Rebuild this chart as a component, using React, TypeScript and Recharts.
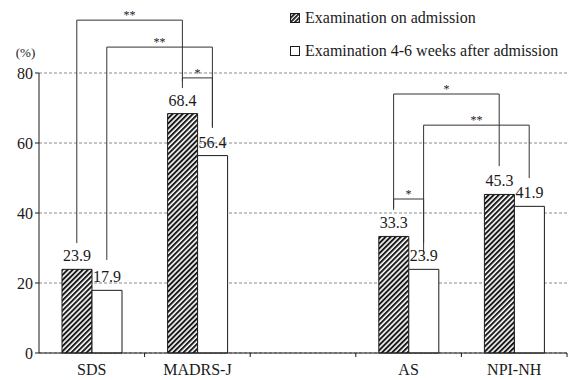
import { BarChart, Bar, XAxis, YAxis, CartesianGrid, ReferenceLine, LabelList, Legend } from 'recharts';

const categories = ['SDS', 'MADRS-J', '', 'AS', 'NPI-NH'];
const onAdmission = [23.9, 68.4, null, 33.3, 45.3];
const afterWeeks = [17.9, 56.4, null, 23.9, 41.9];
const yTicks = [0, 20, 40, 60, 80];
const seriesNames = ['Examination on admission', 'Examination 4-6 weeks after admission'];

// significance brackets: leg = [category, series (0 = admission, 1 = after)], ends and top in %
const brackets = [
  { from: ['SDS', 0], fromEnd: 31.4, to: ['MADRS-J', 0], toEnd: 77.7, top: 95.1, mark: '**' },
  { from: ['SDS', 1], fromEnd: 26.6, to: ['MADRS-J', 1], toEnd: 64.3, top: 87.4, mark: '**' },
  { from: ['MADRS-J', 0], fromEnd: 75.7, to: ['MADRS-J', 1], toEnd: 64.6, top: 78.6, mark: '*' },
  { from: ['AS', 0], fromEnd: 41.4, to: ['NPI-NH', 0], toEnd: 53.4, top: 74.0, mark: '*' },
  { from: ['AS', 0], fromEnd: 40.9, to: ['AS', 1], toEnd: 31.4, top: 44.0, mark: '*' },
  { from: ['AS', 1], fromEnd: 28.9, to: ['NPI-NH', 1], toEnd: 50.0, top: 65.1, mark: '**' },
];

const data = categories.map((name, i) => ({ name, a: onAdmission[i], b: afterWeeks[i] }));

const W = 570;
const H = 380;
const margin = { top: 73, right: 3, bottom: 0, left: 0 };
const barSize = 30;
// bar centre relative to the category centre
const seriesDx = (s: number) => (s === 0 ? -barSize / 2 : barSize / 2);

const FONT = '"Liberation Serif", "Times New Roman", serif';
const INK = '#1a1a1a';
const LINE = '#333';

const shifted = (dx1: number, dx2: number, mark?: string) => (p: any) => (
  <g>
    <line x1={p.x1 + dx1} y1={p.y1} x2={p.x2 + dx2} y2={p.y2} stroke={LINE} strokeWidth={1} />
    {mark ? (
      <text
        x={(p.x1 + dx1 + p.x2 + dx2) / 2}
        y={p.y1 - 1}
        textAnchor="middle"
        fontSize={12}
        fill={INK}
        stroke="none"
      >
        {mark}
      </text>
    ) : null}
  </g>
);

const HatchIcon = () => (
  <svg width={10} height={10} style={{ marginRight: 5 }}>
    <defs>
      <pattern id="hatchIcon" patternUnits="userSpaceOnUse" width={3} height={3} patternTransform="rotate(45)">
        <rect width={3} height={3} fill="#fff" />
        <rect width={1.8} height={3} fill={INK} />
      </pattern>
    </defs>
    <rect x={0.5} y={0.5} width={9} height={9} fill="url(#hatchIcon)" stroke={INK} />
  </svg>
);

const BoxIcon = () => (
  <svg width={10} height={10} style={{ marginRight: 5 }}>
    <rect x={0.5} y={0.5} width={9} height={9} fill="#fff" stroke={INK} />
  </svg>
);

const renderLegend = () => (
  <div style={{ fontFamily: FONT, fontSize: 16, color: INK }}>
    <div style={{ display: 'flex', alignItems: 'center', height: 20 }}>
      <HatchIcon />
      <span>{seriesNames[0]}</span>
    </div>
    <div style={{ display: 'flex', alignItems: 'center', height: 20, marginTop: 13 }}>
      <BoxIcon />
      <span>{seriesNames[1]}</span>
    </div>
  </div>
);

export default function App() {
  return (
    <div style={{ position: 'absolute', left: 0, top: 0, width: W, height: H, background: '#fff', fontFamily: FONT }}>
      <BarChart width={W} height={H} data={data} margin={margin} barGap={0} barSize={barSize}>
        <defs>
          <pattern id="hatch" patternUnits="userSpaceOnUse" width={3.6} height={3.6} patternTransform="rotate(45)">
            <rect width={3.6} height={3.6} fill="#fff" />
            <rect width={2} height={3.6} fill={INK} />
          </pattern>
        </defs>
        <CartesianGrid vertical={false} stroke="#8a8a8a" strokeDasharray="3 2" />
        <XAxis
          dataKey="name"
          height={27}
          axisLine={{ stroke: INK }}
          tickLine={false}
          tickSize={6}
          tickMargin={5}
          tick={{ fill: INK, fontSize: 16 }}
          interval={0}
        />
        <YAxis
          width={39}
          domain={[0, 80]}
          ticks={yTicks}
          axisLine={{ stroke: INK }}
          tickLine={{ stroke: INK }}
          tickSize={4}
          tickMargin={2}
          tick={{ fill: INK, fontSize: 16 }}
          label={{ value: '(%)', position: 'top', offset: 16, dx: 6, fill: INK, fontSize: 13 }}
        />
        <Legend
          layout="horizontal"
          verticalAlign="middle"
          align="center"
          content={renderLegend}
          wrapperStyle={{ top: 8, left: 290, width: 280, height: 60 }}
        />
        {categories.map((c, i) => (
          <ReferenceLine
            key={`tick-${i}`}
            ifOverflow="visible"
            stroke={INK}
            position="end"
            segment={[{ x: c, y: 0 }, { x: c, y: -1.15 }]}
          />
        ))}
        {brackets.flatMap((b, k) => {
          const [c1, s1] = b.from as [string, number];
          const [c2, s2] = b.to as [string, number];
          const d1 = seriesDx(s1);
          const d2 = seriesDx(s2);
          return [
            <ReferenceLine key={`l-${k}`} ifOverflow="visible" shape={shifted(d1, d1)}
              segment={[{ x: c1, y: b.fromEnd }, { x: c1, y: b.top }]} />,
            <ReferenceLine key={`r-${k}`} ifOverflow="visible" shape={shifted(d2, d2)}
              segment={[{ x: c2, y: b.toEnd }, { x: c2, y: b.top }]} />,
            <ReferenceLine key={`t-${k}`} ifOverflow="visible" shape={shifted(d1, d2, b.mark)}
              segment={[{ x: c1, y: b.top }, { x: c2, y: b.top }]} />,
          ];
        })}
        <Bar dataKey="a" name={seriesNames[0]} fill="url(#hatch)" stroke={INK} isAnimationActive={false}>
          <LabelList dataKey="a" position="top" offset={8} fill={INK} fontSize={16} />
        </Bar>
        <Bar dataKey="b" name={seriesNames[1]} fill="#fff" stroke={INK} isAnimationActive={false}>
          <LabelList dataKey="b" position="top" offset={8} fill={INK} fontSize={16} />
        </Bar>
      </BarChart>
    </div>
  );
}
